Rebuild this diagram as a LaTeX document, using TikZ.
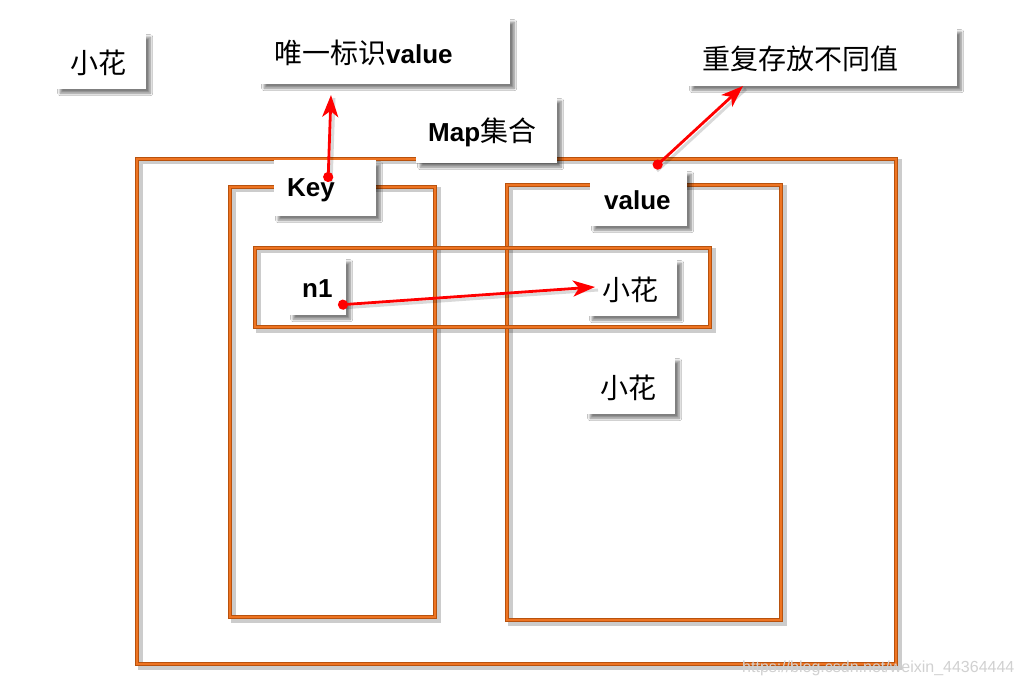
\documentclass[tikz,border=0pt]{standalone}
\usepackage{fontspec}
\setmainfont{Liberation Sans}
\newfontfamily\cjk{Noto Sans CJK SC}
\usetikzlibrary{shadows.blur,arrows.meta}
\definecolor{ordark}{HTML}{B8520E}
\definecolor{orlight}{HTML}{EE7422}
\definecolor{arrred}{HTML}{FF0000}
\tikzset{
  tbox/.style={fill=white, draw=none, inner sep=0pt,
    blur shadow={shadow xshift=4pt, shadow yshift=-4pt, shadow blur radius=2.5pt, shadow blur steps=8, shadow opacity=50}},
  orrect/.style={draw=ordark, line width=1.3pt, double=orlight, double distance=1.8pt},
  orshadow/.style={draw=black, opacity=0.2, line width=5pt},
  redarrow/.style={draw=arrred, line width=2.8pt, {Circle[length=10pt]}-{Stealth[length=22pt,width=16pt,inset=6pt]}},
  arrshadow/.style={draw=black, opacity=0.15, line width=3pt},
  lbl/.style={anchor=west, inner sep=0pt, font=\fontsize{26}{30}\selectfont},
}
\newcommand{\cj}[1]{{\cjk\fontsize{28}{30}\selectfont #1}}
\newcommand{\mybox}[7]{%
  \node[tbox, anchor=north west, minimum width=#4pt, minimum height=#5pt] (#1) at (#2,#3) {};
  \node[lbl] (#1t) at ([xshift=#6pt,yshift=-2pt]#1.west) {#7};}
\begin{document}
\begin{tikzpicture}[x=1pt,y=-1pt]
\useasboundingbox[fill=white] (0,0) rectangle (1024,692);
% orange rectangles with shadows
\draw[orshadow] (140,162) rectangle (899,667);
\draw[orshadow] (233,190) rectangle (438,620);
\draw[orshadow] (510,188) rectangle (784,623);
\draw[orshadow] (258,251) rectangle (713,330);
\draw[orrect] (137,159) rectangle (896,664);
\draw[orrect] (230,187) rectangle (435,617);
\draw[orrect] (507,185) rectangle (781,620);
\draw[orrect] (255,248) rectangle (710,327);
% boxes
\mybox{xh1}{56}{33}{90}{56}{14}{\cj{小花}}
\mybox{wy}{260}{18}{250}{66}{14}{\cj{唯一标识}\textbf{value}}
\mybox{map}{416}{97}{141}{66}{12}{\textbf{Map}\cj{集合}}
\mybox{cf}{688}{28}{269}{58}{14}{\cj{重复存放不同值}}
\mybox{key}{274}{160}{102}{56}{13}{\textbf{Key}}
\mybox{val}{590}{170}{97}{56}{14}{\textbf{value}}
\mybox{n1}{289}{258}{57}{57}{13}{\textbf{n1}}
\mybox{xh2}{588}{259}{89}{57}{14}{\cj{小花}}
\mybox{xh3}{586}{357}{89}{57}{14}{\cj{小花}}
% arrow end points
\coordinate (a1s) at (328,182);
\coordinate (a1e) at (331,95);
\coordinate (a2s) at (654,168);
\coordinate (a2e) at (743,86);
\coordinate (a3s) at (338,305);
\coordinate (a3e) at (595,287);
\draw[arrshadow] ([shift={(3,3)}]a1s) -- ([shift={(3,3)}]a1e);
\draw[arrshadow] ([shift={(3,3)}]a2s) -- ([shift={(3,3)}]a2e);
\draw[arrshadow] ([shift={(3,3)}]a3s) -- ([shift={(3,3)}]a3e);
\draw[redarrow] (a1s) -- (a1e);
\draw[redarrow] (a2s) -- (a2e);
\draw[redarrow] (a3s) -- (a3e);
% watermark
\node[anchor=west, inner sep=0pt, text=black!18, font=\fontsize{16}{18}\selectfont] (wm) at (742,668) {https://blog.csdn.net/weixin\_44364444};
\end{tikzpicture}
\end{document}
